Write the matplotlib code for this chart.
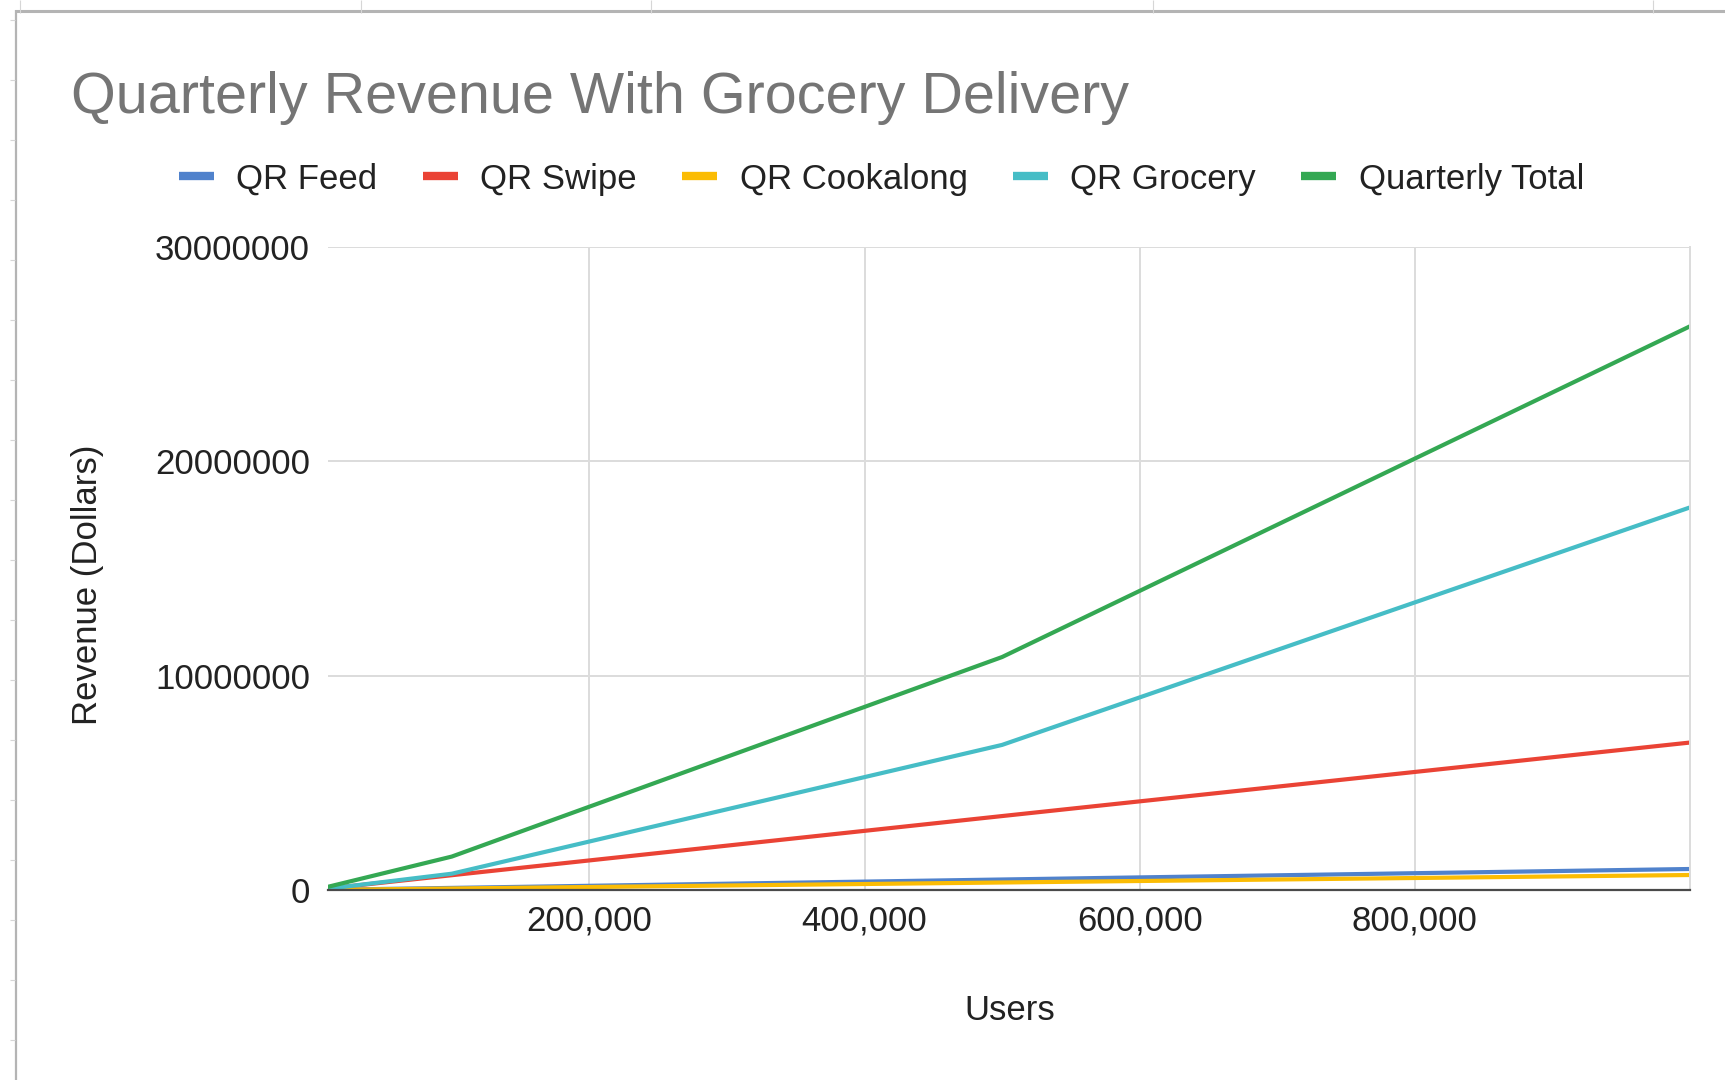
import matplotlib
matplotlib.use("Agg")
import matplotlib.pyplot as plt
from matplotlib.lines import Line2D
from matplotlib.ticker import FuncFormatter

plt.rcParams['font.family'] = ['Liberation Sans', 'DejaVu Sans']

# users per quarter and revenue per product line (dollars)
users = [10000, 100000, 500000, 1000000]
qr_feed = [10000, 98000, 490000, 980000]
qr_swipe = [70000, 690000, 3450000, 6880000]
qr_cookalong = [7000, 70000, 350000, 700000]
qr_grocery = [60000, 760000, 6770000, 17850000]
quarterly_total = [150000, 1560000, 10870000, 26300000]

series_names = ["QR Feed", "QR Swipe", "QR Cookalong", "QR Grocery", "Quarterly Total"]
series_values = [qr_feed, qr_swipe, qr_cookalong, qr_grocery, quarterly_total]
colors = ["#5082cc", "#ea4335", "#fbbc04", "#46bdc6", "#34a853"]

x_ticks = [200000, 400000, 600000, 800000]
y_ticks = [0, 10000000, 20000000, 30000000]

W, H = 1725, 1080
fig = plt.figure(figsize=(W / 100, H / 100), dpi=100)


def fx(x):
    return x / W


def fy(y):
    return 1 - y / H


# sheet frame around the chart
def sheet_line(xs, ys, color, lw):
    fig.add_artist(Line2D([fx(v) for v in xs], [fy(v) for v in ys],
                          transform=fig.transFigure, color=color, lw=lw,
                          solid_capstyle='butt'))


sheet_line([15, W], [11, 11], "#b4b4b4", 2.2)
sheet_line([16, 16], [10, H], "#b4b4b4", 1.6)
for cx in [20, 361, 651, 1153, 1653]:
    sheet_line([cx, cx], [0, 13], "#d6d6d6", 0.8)
for ry in range(20, H, 60):
    sheet_line([10, 15], [ry, ry], "#d6d6d6", 0.8)

left, right, top, bottom = 328, 1690, 247, 890
ax = fig.add_axes([fx(left), fy(bottom), (right - left) / W, (bottom - top) / H])

for name, vals, c in zip(series_names, series_values, colors):
    ax.plot(users, vals, color=c, lw=3.0, label=name, solid_joinstyle='round')

ax.set_xlim(10000, 1000000)
ax.set_ylim(0, 30000000)
ax.set_xticks(x_ticks)
ax.set_yticks(y_ticks)
ax.xaxis.set_major_formatter(FuncFormatter(lambda v, p: f"{int(v):,}"))
ax.yaxis.set_major_formatter(FuncFormatter(lambda v, p: f"{int(v)}"))
ax.tick_params(axis='both', length=0, labelsize=25, labelcolor="#222222")
ax.tick_params(axis='x', pad=10.5)
ax.tick_params(axis='y', pad=13)

ax.grid(True, color="#dcdcdc", lw=1.4)
ax.set_axisbelow(True)
for side in ["left", "top"]:
    ax.spines[side].set_visible(False)
ax.spines["right"].set_color("#dcdcdc")
ax.spines["right"].set_linewidth(1.4)
ax.spines["bottom"].set_color("#4a4a4a")
ax.spines["bottom"].set_linewidth(1.6)
ax.spines["bottom"].set_zorder(5)

fig.text(fx(71), fy(113), "Quarterly Revenue With Grocery Delivery",
         fontsize=41.4, color="#757575", ha='left', va='baseline')

handles = [Line2D([], [], color=c, lw=6, solid_capstyle='butt') for c in colors]
fig.legend(handles, series_names, loc='center left',
           bbox_to_anchor=(fx(179), fy(179)), ncol=5, frameon=False,
           fontsize=25, labelcolor="#222222", handlelength=1.0,
           handletextpad=0.65, columnspacing=1.31, borderpad=0,
           borderaxespad=0)

fig.text(fx(87), fy(585), "Revenue (Dollars)", rotation=90, fontsize=25,
         color="#222222", ha='center', va='center')
fig.text(fx(1010), fy(1010), "Users", fontsize=25, color="#222222",
         ha='center', va='center')

fig.savefig("out.png", dpi=100)
